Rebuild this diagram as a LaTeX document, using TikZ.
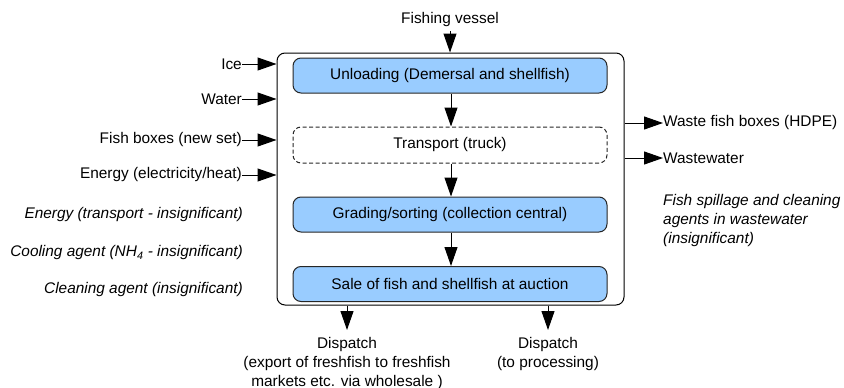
\documentclass[tikz,border=0pt]{standalone}
\usepackage{fontspec}
\setmainfont{Liberation Sans}
\usetikzlibrary{arrows.meta}
\definecolor{boxblue}{HTML}{99CCFF}
\tikzset{
  every node/.style={font=\fontsize{15.4}{19}\selectfont, inner sep=0pt},
  arr/.style={line width=1pt, -{Triangle[length=19pt,width=13pt]}},
  stepbox/.style={draw=black!85, line width=1pt, rounded corners=8pt, fill=boxblue,
     minimum width=314pt, minimum height=35pt},
  dashbox/.style={draw=black!85, line width=1pt, dash pattern=on 4pt off 2.5pt, rounded corners=8pt,
     minimum width=314pt, minimum height=36pt},
  lab/.style={anchor=east},
  ital/.style={anchor=east, font=\fontsize{15.4}{19}\selectfont\itshape},
}
\begin{document}
\begin{tikzpicture}[x=1pt,y=-1pt]
\useasboundingbox (0,0) rectangle (844,388);
\node[draw=black, line width=1pt, rounded corners=8pt, minimum width=347pt, minimum height=252pt] (outer) at (450.5,179) {};
\node[stepbox] (unload) at (450,75.5) {Unloading (Demersal and shellfish)};
\node[dashbox] (transport) at (450,145) {Transport (truck)};
\node[stepbox] (grading) at (450,214.5) {Grading/sorting (collection central)};
\node[stepbox] (sale) at (450,284) {Sale of fish and shellfish at auction};

\node (vessel) at (450,20) {Fishing vessel};
\draw[arr] (450,31) coordinate (vs) -- (vs |- outer.north);
\draw[arr] (unload.south -| 451,0) coordinate (a1) -- (a1 |- transport.north);
\draw[arr] (transport.south -| 451,0) coordinate (a2) -- (a2 |- grading.north);
\draw[arr] (grading.south -| 451,0) coordinate (a3) -- (a3 |- sale.north);

\node[lab] (ice) at (242,64) {Ice};
\node[lab] (water) at (242,99) {Water};
\node[lab] (boxes) at (242,140) {Fish boxes (new set)};
\node[lab] (energy) at (242,175) {Energy (electricity/heat)};
\foreach \n in {ice,water,boxes,energy}
  \draw[arr] (\n.east) -- (\n.east -| outer.west);

\node[ital] (etrans) at (243,215) {Energy (transport - insignificant)};
\node[ital] (cool) at (243,253) {Cooling agent (NH\textsubscript{4} - insignificant)};
\node[ital] (clean) at (243,290) {Cleaning agent (insignificant)};

\node[anchor=west] (wboxes) at (663,123) {Waste fish boxes (HDPE)};
\node[anchor=west] (wwater) at (663,158) {Wastewater};
\draw[arr] (outer.east |- wboxes.west) -- (wboxes.west);
\draw[arr] (outer.east |- wwater.west) -- (wwater.west);

\node[anchor=north west, align=left, font=\fontsize{15.4}{19}\selectfont\itshape] (spill) at (663,194)
  {Fish spillage and cleaning\\agents in wastewater\\(insignificant)};

\node[anchor=north, align=center] (disp1) at (347,337)
  {Dispatch\\(export of freshfish to freshfish\\markets etc. via wholesale )};
\node[anchor=north, align=center] (disp2) at (548,337)
  {Dispatch\\(to processing)};
\draw[arr] (disp1.north |- outer.south) -- (347,330);
\draw[arr] (disp2.north |- outer.south) -- (548,330);
\end{tikzpicture}
\end{document}
